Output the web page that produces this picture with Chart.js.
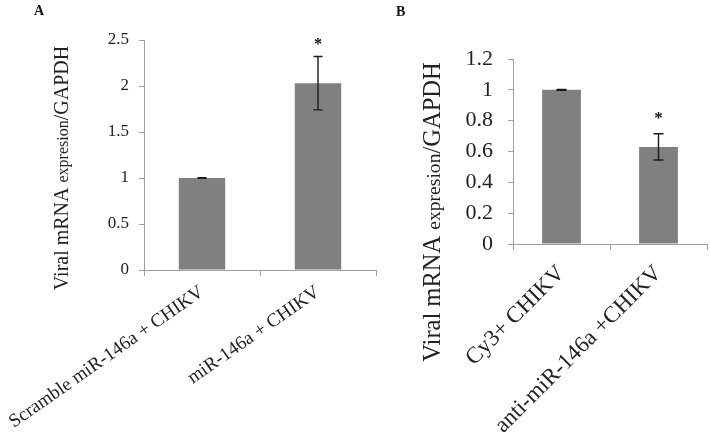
<!DOCTYPE html>
<html>
<head>
<meta charset="utf-8">
<script src="https://cdn.jsdelivr.net/npm/chart.js@4.4.1/dist/chart.umd.min.js"></script>
<style>
  body { margin: 0; background: #fff; }
  #wrap { position: relative; width: 710px; height: 438px; overflow: hidden; }
  canvas { position: absolute; top: 0; }
  .letter { position: absolute; font: bold 14px 'Liberation Serif', serif; color: #111; }
</style>
</head>
<body>
<div id="wrap">
  <canvas id="chartA" width="380" height="438" style="left:0"></canvas>
  <canvas id="chartB" width="330" height="438" style="left:380px"></canvas>
  <div class="letter" style="left:34px;top:3px">A</div>
  <div class="letter" style="left:396px;top:4px">B</div>
</div>
<script>
// panel A
const categoriesA = ['Scramble miR-146a + CHIKV', 'miR-146a + CHIKV']
const valuesA = [1.0, 2.03]
const errorsA = [0.004, 0.29]
const starsA = ['', '*']
const ticksA = [0, 0.5, 1, 1.5, 2, 2.5]

// panel B
const categoriesB = ['Cy3+ CHIKV', 'anti-miR-146a +CHIKV']
const valuesB = [1.0, 0.63]
const errorsB = [0.003, 0.085]
const starsB = ['', '*']
const ticksB = [0, 0.2, 0.4, 0.6, 0.8, 1, 1.2]

const yTitleParts = [['Viral mRNA ', 1], ['expresion', 0.8], ['/GAPDH', 1]]

const serif = "'Liberation Serif', 'Times New Roman', serif"
const axisGray = '#a0a0a0'

// error bars + significance stars
const errorBars = {
  id: 'errorBars',
  afterDatasetsDraw(chart, args, opts) {
    const ctx = chart.ctx
    const y = chart.scales.y
    const meta = chart.getDatasetMeta(0)
    const data = chart.data.datasets[0].data
    ctx.save()
    ctx.strokeStyle = '#1a1a1a'
    ctx.lineWidth = 1.4
    meta.data.forEach((bar, i) => {
      const top = y.getPixelForValue(data[i] + opts.errors[i])
      const bot = y.getPixelForValue(data[i] - opts.errors[i])
      ctx.beginPath()
      ctx.moveTo(bar.x, top); ctx.lineTo(bar.x, bot)
      ctx.moveTo(bar.x - opts.cap, top); ctx.lineTo(bar.x + opts.cap, top)
      ctx.moveTo(bar.x - opts.cap, bot); ctx.lineTo(bar.x + opts.cap, bot)
      ctx.stroke()
      if (opts.stars[i]) {
        ctx.fillStyle = '#111'
        ctx.font = 'bold ' + opts.starSize + 'px ' + serif
        ctx.textAlign = 'center'
        ctx.textBaseline = 'alphabetic'
        ctx.fillText(opts.stars[i], bar.x, top - opts.starGap)
      }
    })
    ctx.restore()
  }
}

// y title with the mixed sizes of the original figure
const yTitle = {
  id: 'yTitle',
  afterDraw(chart, args, opts) {
    const ctx = chart.ctx
    ctx.save()
    ctx.translate(opts.x, opts.y)
    ctx.rotate(-Math.PI / 2)
    ctx.fillStyle = '#222'
    ctx.textBaseline = 'alphabetic'
    ctx.textAlign = 'left'
    let total = 0
    yTitleParts.forEach(([t, k]) => {
      ctx.font = (opts.size * k) + 'px ' + serif
      total += ctx.measureText(t).width
    })
    let x = -total / 2
    yTitleParts.forEach(([t, k]) => {
      ctx.font = (opts.size * k) + 'px ' + serif
      ctx.fillText(t, x, 0)
      x += ctx.measureText(t).width
    })
    ctx.restore()
  }
}

function makeChart(id, cfg) {
  return new Chart(document.getElementById(id), {
    type: 'bar',
    data: {
      labels: cfg.labels,
      datasets: [{
        data: cfg.values,
        backgroundColor: '#808080',
        borderWidth: 0,
        categoryPercentage: 1,
        barPercentage: 0.4
      }]
    },
    options: {
      responsive: false,
      animation: false,
      layout: { padding: { top: cfg.top, right: cfg.right, left: 0, bottom: 0 } },
      plugins: {
        legend: { display: false },
        tooltip: { enabled: false },
        errorBars: { errors: cfg.errors, stars: cfg.stars, cap: cfg.cap, starSize: cfg.starSize, starGap: cfg.starGap },
        yTitle: { x: cfg.titleX, y: cfg.titleY, size: cfg.titleSize }
      },
      scales: {
        x: {
          grid: { drawOnChartArea: false, offset: true, tickLength: 6, color: axisGray },
          border: { color: axisGray },
          ticks: {
            autoSkip: false, minRotation: cfg.rot, maxRotation: cfg.rot,
            padding: cfg.xPad, color: '#222', font: { family: serif, size: cfg.xFont }
          },
          afterFit: s => { s.height = cfg.xHeight; s.paddingLeft = 0; s.paddingRight = 0 }
        },
        y: {
          min: 0, max: cfg.ticks[cfg.ticks.length - 1],
          afterBuildTicks: s => { s.ticks = cfg.ticks.map(v => ({ value: v })) },
          grid: { drawOnChartArea: false, tickLength: 5, color: axisGray },
          border: { color: axisGray },
          ticks: {
            padding: cfg.yPad, color: '#222', font: { family: serif, size: cfg.yFont },
            callback: v => String(v)
          },
          afterFit: s => { s.width = cfg.yWidth }
        }
      }
    },
    plugins: [errorBars, yTitle]
  })
}

makeChart('chartA', {
  labels: categoriesA, values: valuesA, errors: errorsA, stars: starsA, ticks: ticksA,
  top: 40, right: 4, yWidth: 144, xHeight: 168, rot: 35, xPad: 5, xFont: 19, yFont: 17, yPad: 10,
  cap: 4.5, starSize: 16, starGap: 8, titleX: 68, titleY: 168, titleSize: 20
})

makeChart('chartB', {
  labels: categoriesB, values: valuesB, errors: errorsB, stars: starsB, ticks: ticksB,
  top: 59, right: 3, yWidth: 133, xHeight: 194, rot: 45, xPad: 10, xFont: 23, yFont: 22, yPad: 15,
  cap: 5, starSize: 17, starGap: 11, titleX: 60, titleY: 212, titleSize: 24.5
})
</script>
</body>
</html>
